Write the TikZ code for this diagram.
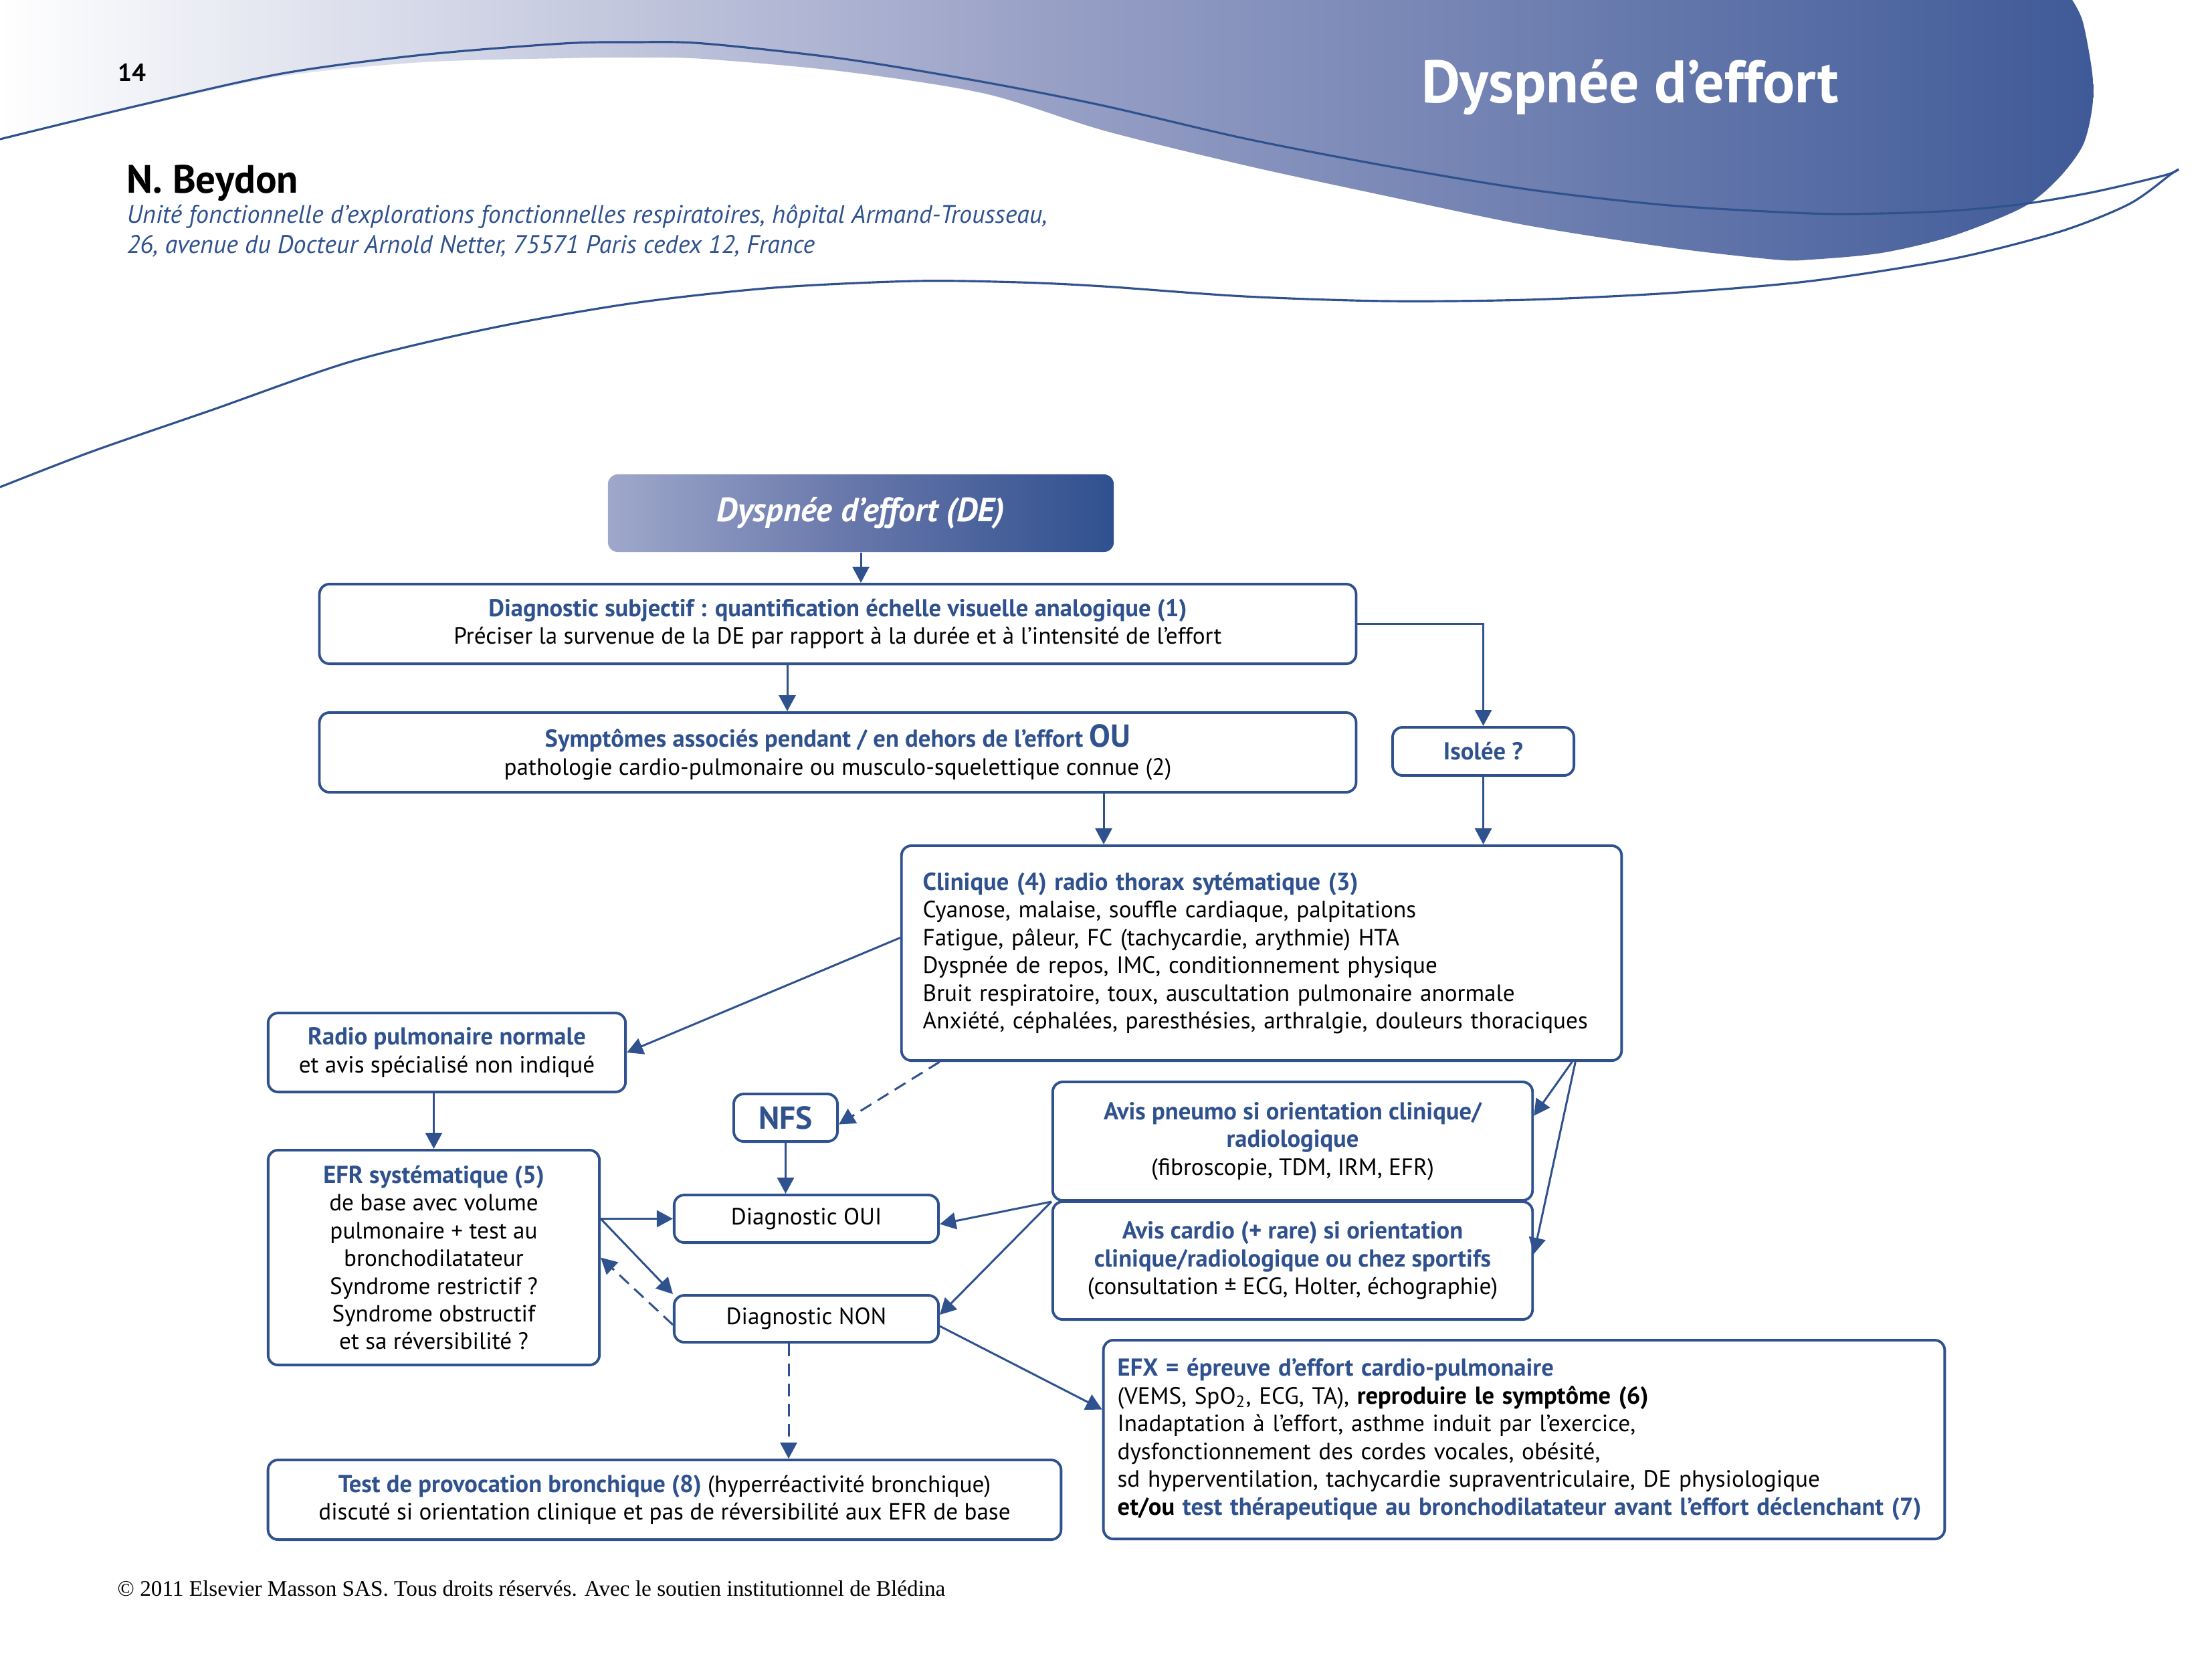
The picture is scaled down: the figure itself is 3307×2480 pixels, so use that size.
\documentclass[tikz,border=0pt]{standalone}
\usepackage{fontspec}
\setmainfont{PT Sans}
\newfontfamily\footfont{Liberation Serif}
\usetikzlibrary{arrows.meta,calc}
\definecolor{mblue}{HTML}{2F528F}
\definecolor{hdark}{HTML}{3F5A98}
\definecolor{hmid}{HTML}{98A0C6}
\definecolor{tboxl}{HTML}{9FA8CB}
\definecolor{tboxm}{HTML}{6575A9}
\definecolor{tboxr}{HTML}{2F508F}
\newcommand{\bodyfnt}{\fontsize{10}{11.8}\selectfont}
\newcommand{\hb}[1]{\textcolor{mblue}{\fontsize{10.4}{11.8}\selectfont\bfseries #1}}
\tikzset{
  box/.style={draw=mblue, line width=1.1pt, rounded corners=0.15cm, fill=white,
    inner sep=0pt, font=\bodyfnt, align=center},
  arr/.style={draw=mblue, line width=0.85pt, -{Triangle[length=2.4mm,width=2.5mm]}},
  dasharr/.style={arr, dash pattern=on 1.9mm off 1.1mm},
  wave/.style={draw=mblue, line width=0.9pt},
}
\begin{document}
\begin{tikzpicture}[x=0.01cm, y=-0.01cm]
\useasboundingbox (0,0) rectangle (3307,2480);
\fill[white] (0,0) rectangle (3307,2480);
% header
\shade[left color=white, right color=hdark, middle color=hmid]
  (0,0) -- plot[smooth] coordinates {(3098,0) (3114,33) (3128,110) (3128,160) (3114,217) (3077,267) (3024,310) (2918,353) (2813,378) (2707,388) (2654,388) (2496,370) (2284,337) (2073,293) (1861,247) (1650,195) (1473,140) (1262,107) (1052,88) (947,86) (842,87) (631,93) (421,114) (210,159) (0,209)} -- cycle;
\draw[wave] plot[smooth] coordinates {(0,208) (210,157) (421,110) (631,82) (842,65) (947,63) (1052,65) (1262,88) (1473,123) (1650,158) (1861,207) (2073,248) (2284,283) (2496,307) (2707,319) (2813,319) (2918,315) (3024,305) (3130,287) (3236,262) (3257,253)};
\draw[wave] plot[smooth] coordinates {(0,728) (137,675) (316,613) (526,540) (736,490) (947,453) (1157,430) (1368,420) (1525,422) (1650,428) (1861,443) (2073,450) (2284,448) (2496,438) (2707,420) (2918,387) (3077,347) (3183,305) (3246,260) (3257,253)};
\node[font=\fontsize{10.5}{12}\selectfont\bfseries] (pg) at (197,108) {14};
\node[anchor=base, inner sep=0pt, font=\fontsize{25.5}{30}\selectfont\bfseries, text=white] (title) at (2437,153) {Dyspnée d’effort};
\node[anchor=base west, inner sep=0pt, font=\fontsize{16.8}{20}\selectfont\bfseries] (auth) at (189,288) {N. Beydon};
\node[anchor=base west, inner sep=0pt, align=left, text=mblue, font=\fontsize{10.8}{12.8}\selectfont\itshape] (aff) at (189,378)
  {Unité fonctionnelle d’explorations fonctionnelles respiratoires, hôpital Armand-Trousseau,\\
   26, avenue du Docteur Arnold Netter, 75571 Paris cedex 12, France};

% boxes
\node[draw=none, rounded corners=0.15cm, left color=tboxl, right color=tboxr, middle color=tboxm,
  minimum width=7.56cm, minimum height=1.16cm, inner sep=0pt, text=white,
  font=\fontsize{14.3}{17}\selectfont\bfseries\itshape] (top) at (1287,767) {Dyspnée d’effort (DE)};
\node[box, minimum width=15.49cm, minimum height=1.19cm] (diag) at (1252.5,932.5)
  {\hb{Diagnostic subjectif : quantification échelle visuelle analogique (1)}\\
   Préciser la survenue de la DE par rapport à la durée et à l’intensité de l’effort};
\node[box, minimum width=15.49cm, minimum height=1.19cm] (sympt) at (1252.5,1124.5)
  {\hb{Symptômes associés pendant / en dehors de l’effort {\fontsize{13.5}{12}\selectfont OU}}\\
   pathologie cardio-pulmonaire ou musculo-squelettique connue (2)};
\node[box, minimum width=2.71cm, minimum height=0.72cm] (isol) at (2217.5,1123) {\hb{Isolée ?}};
\node[box, minimum width=10.76cm, minimum height=3.21cm, text width=10.12cm, align=left] (clin) at (1886,1424.5)
  {\hb{Clinique (4) radio thorax sytématique (3)}\\
   Cyanose, malaise, souffle cardiaque, palpitations\\
   Fatigue, pâleur, FC (tachycardie, arythmie) HTA\\
   Dyspnée de repos, IMC, conditionnement physique\\
   Bruit respiratoire, toux, auscultation pulmonaire anormale\\
   Anxiété, céphalées, paresthésies, arthralgie, douleurs thoraciques};
\node[box, minimum width=5.34cm, minimum height=1.18cm] (radio) at (668,1573)
  {\hb{Radio pulmonaire normale}\\ et avis spécialisé non indiqué};
\node[box, minimum width=4.95cm, minimum height=3.21cm] (efr) at (648.5,1879.5)
  {\hb{EFR systématique (5)}\\ de base avec volume\\ pulmonaire + test au\\ bronchodilatateur\\
   Syndrome restrictif ?\\ Syndrome obstructif\\ et sa réversibilité ?};
\node[box, minimum width=1.55cm, minimum height=0.71cm] (nfs) at (1174.5,1670.5) {\textcolor{mblue}{\fontsize{13.5}{14}\selectfont\bfseries NFS}};
\node[box, minimum width=3.95cm, minimum height=0.71cm] (oui) at (1205.5,1821.5) {Diagnostic OUI};
\node[box, minimum width=3.95cm, minimum height=0.70cm] (non) at (1205.5,1971) {Diagnostic NON};
\node[box, minimum width=7.17cm, minimum height=1.77cm] (pneumo) at (1932.5,1705.5)
  {\hb{Avis pneumo si orientation clinique/}\\ \hb{radiologique}\\ (fibroscopie, TDM, IRM, EFR)};
\node[box, minimum width=7.17cm, minimum height=1.76cm] (cardio) at (1932.5,1884)
  {\hb{Avis cardio (+ rare) si orientation}\\ \hb{clinique/radiologique ou chez sportifs}\\ (consultation ± ECG, Holter, échographie)};
\node[box, minimum width=12.57cm, minimum height=2.97cm, text width=12.15cm, align=left] (efx) at (2278.5,2151.5)
  {\hb{EFX = épreuve d’effort cardio-pulmonaire}\\
   (VEMS, SpO\textsubscript{2}, ECG, TA), {\fontsize{10.4}{11.8}\selectfont\bfseries reproduire le symptôme (6)}\\
   Inadaptation à l’effort, asthme induit par l’exercice,\\
   dysfonctionnement des cordes vocales, obésité,\\
   sd hyperventilation, tachycardie supraventriculaire, DE physiologique\\
   {\fontsize{10.4}{11.8}\selectfont\bfseries et/ou} \hb{test thérapeutique au bronchodilatateur avant l’effort déclenchant (7)}};
\node[box, minimum width=11.85cm, minimum height=1.19cm] (test) at (993.5,2241.5)
  {\hb{Test de provocation bronchique (8)} (hyperréactivité bronchique)\\
   discuté si orientation clinique et pas de réversibilité aux EFR de base};
\node[anchor=west, inner sep=0pt, font=\footfont\fontsize{9.45}{11}\selectfont] (foot) at (175,2374)
  {© 2011 Elsevier Masson SAS. Tous droits réservés. Avec le soutien institutionnel de Blédina};

% connectors
\coordinate (x1177) at (1177,0);
\coordinate (x1650) at (1650,0);
\coordinate (x1179) at (1179,0);
\draw[arr] (top.south) -- (top.south |- diag.north);
\draw[arr] (x1177 |- diag.south) -- (x1177 |- sympt.north);
\draw[arr] (diag.east) -| (isol.north);
\draw[arr] (x1650 |- sympt.south) -- (x1650 |- clin.north);
\draw[arr] (isol.south) -- (isol.south |- clin.north);
\draw[arr] ($(clin.west)+(0,-23)$) -- (radio.east);
\draw[arr] (efr.north |- radio.south) -- (efr.north);
\draw[dasharr] ($(clin.south west)+(59,0)$) -- ($(nfs.east)+(0,10)$);
\draw[arr] (nfs.south) -- (nfs.south |- oui.north);
\draw[arr] (efr.east |- oui.west) -- (oui.west);
\draw[arr] (efr.east |- oui.west) -- (non.north west);
\draw[dasharr] ($(non.west)+(0,9)$) -- (efr.east);
\draw[dasharr] (x1179 |- non.south) -- (x1179 |- test.north);
\draw[arr] ($(clin.south east)+(-76,0)$) -- ($(pneumo.east)+(0,-38)$);
\draw[arr] ($(clin.south east)+(-71,0)$) -- ($(cardio.east)+(0,-10)$);
\draw[arr] (pneumo.south west) -- ($(oui.east)+(0,8)$);
\draw[arr] (pneumo.south west) -- ($(non.east)+(0,-6)$);
\draw[arr] ($(non.east)+(0,11)$) -- ($(efx.west)+(0,-45)$);
\end{tikzpicture}
\end{document}
